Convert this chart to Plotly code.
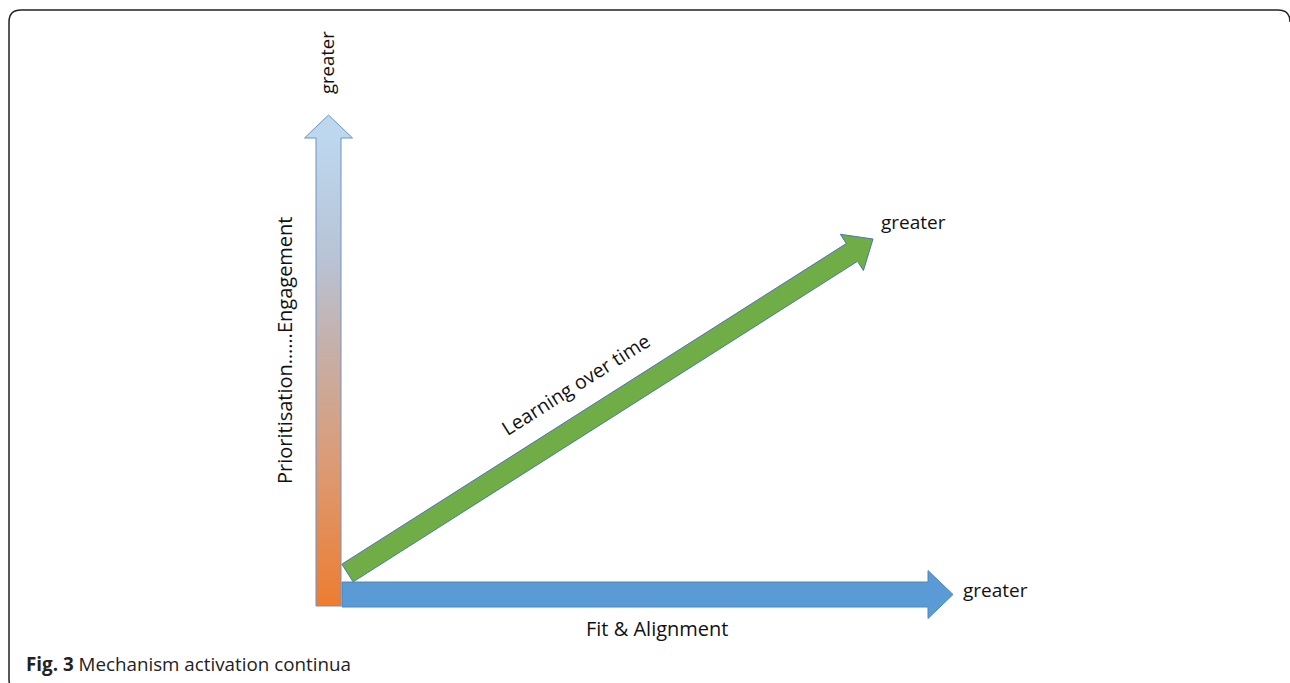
import math
import plotly.graph_objects as go

W, H = 1290, 683

# Diagram content
axis_labels = ["Prioritisation……Engagement", "Learning over time", "Fit & Alignment"]
end_labels = ["greater", "greater", "greater"]
caption_bold = "Fig. 3"
caption_text = "Mechanism activation continua"

# arrow specs: tail(x,y), tip(x,y), shaft width, head width, head length
vert_arrow = dict(tail=(328.5, 606), tip=(328.5, 115), sw=25, hw=48, hl=23)
green_arrow = dict(tail=(347.5, 573), tip=(873, 239), sw=21, hw=43, hl=25)
blue_arrow = dict(tail=(342, 594.5), tip=(953, 594.5), sw=25, hw=48, hl=25)


def arrow_poly(spec):
    (x0, y0), (x1, y1) = spec["tail"], spec["tip"]
    dx, dy = x1 - x0, y1 - y0
    L = math.hypot(dx, dy)
    ux, uy = dx / L, dy / L
    px, py = -uy, ux
    sw, hw, hl = spec["sw"] / 2, spec["hw"] / 2, spec["hl"]
    bx, by = x1 - ux * hl, y1 - uy * hl
    pts = [
        (x0 + px * sw, y0 + py * sw),
        (bx + px * sw, by + py * sw),
        (bx + px * hw, by + py * hw),
        (x1, y1),
        (bx - px * hw, by - py * hw),
        (bx - px * sw, by - py * sw),
        (x0 - px * sw, y0 - py * sw),
        (x0 + px * sw, y0 + py * sw),
    ]
    return [p[0] for p in pts], [p[1] for p in pts]


fig = go.Figure()

# vertical gradient arrow
xs, ys = arrow_poly(vert_arrow)
fig.add_trace(go.Scatter(
    x=xs, y=ys, mode="lines", fill="toself",
    line=dict(color="#6F93C0", width=1),
    fillgradient=dict(type="vertical", start=606, stop=140,
                      colorscale=[[0, "#ED7D31"], [0.3, "#DC9A74"], [0.55, "#C6AFA8"],
                                  [0.75, "#B8C3D6"], [1, "#BDD7EE"]]),
    hoverinfo="skip", showlegend=False))

# green arrow
xs, ys = arrow_poly(green_arrow)
fig.add_trace(go.Scatter(
    x=xs, y=ys, mode="lines", fill="toself", fillcolor="#70AD47",
    line=dict(color="#4A78A8", width=1), hoverinfo="skip", showlegend=False))

# blue arrow
xs, ys = arrow_poly(blue_arrow)
fig.add_trace(go.Scatter(
    x=xs, y=ys, mode="lines", fill="toself", fillcolor="#5B9BD5",
    line=dict(color="#4F86BC", width=1), hoverinfo="skip", showlegend=False))

font_main = "Open Sans, Noto Sans, sans-serif"
ann = []
ann.append(dict(x=326, y=63, text=end_labels[0], textangle=-90, font=dict(size=18.5)))
ann.append(dict(x=284, y=350, text=axis_labels[0], textangle=-90, font=dict(size=20)))
ann.append(dict(x=575, y=384, text=axis_labels[1], textangle=-32.4, font=dict(size=19.5)))
ann.append(dict(x=913, y=222, text=end_labels[1], font=dict(size=19)))
ann.append(dict(x=995, y=590, text=end_labels[2], font=dict(size=19)))
ann.append(dict(x=657, y=628, text=axis_labels[2], font=dict(size=20)))
for a in ann:
    a.update(xref="x", yref="y", showarrow=False)
    a["font"].update(family=font_main, color="#111111")
for a in ann:
    fig.add_annotation(**a)
fig.add_annotation(x=24, y=664, xref="x", yref="y", showarrow=False, xanchor="left",
                   text=f"<b>{caption_bold}</b> {caption_text}",
                   font=dict(family=font_main, size=18.8, color="#222222"))

# rounded frame
fig.add_shape(type="path",
              path="M 22,692 Q 9,692 9,679 L 9,22 Q 9,10 21,10 L 1278,10 Q 1290,10 1290,22",
              line=dict(color="#222222", width=1.5), xref="x", yref="y")

fig.update_xaxes(range=[0, W], visible=False, fixedrange=True)
fig.update_yaxes(range=[H, 0], visible=False, fixedrange=True)
fig.update_layout(width=W, height=H, margin=dict(l=0, r=0, t=0, b=0),
                  plot_bgcolor="white", paper_bgcolor="white")
fig.write_html("out.html", config={"displayModeBar": False},
               post_script="document.body.style.margin='0';document.body.style.overflow='hidden';")
